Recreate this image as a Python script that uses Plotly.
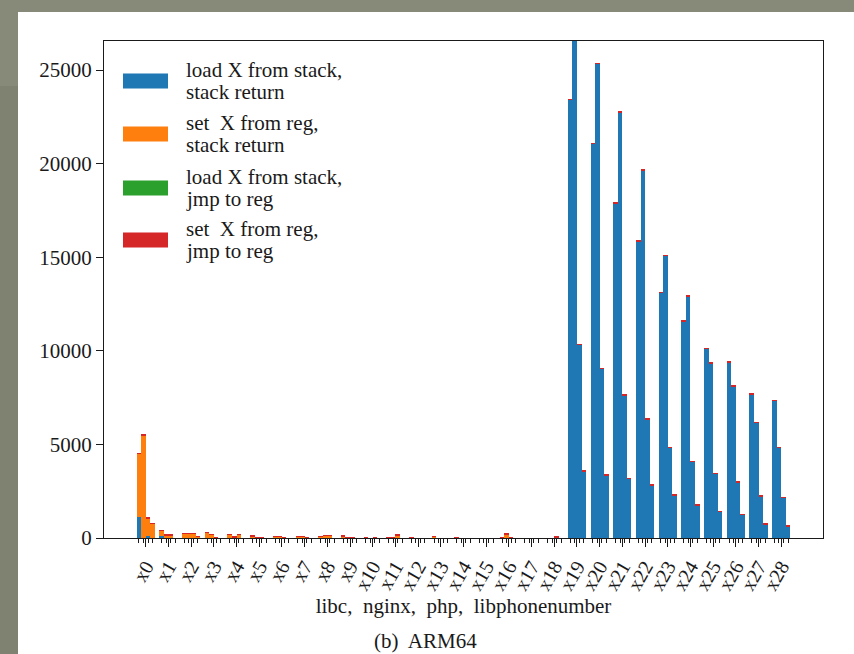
import plotly.graph_objects as go

# ---------------- data ----------------
registers = [f"x{i}" for i in range(29)]
programs = ["libc", "nginx", "php", "libphonenumber"]
categories = ["load X from stack,|stack return",
              "set\u00a0 X from reg,|stack return",
              "load X from stack,|jmp to reg",
              "set\u00a0 X from reg,|jmp to reg"]
colors = ["#1f77b4", "#ff7f0e", "#2ca02c", "#d62728"]

# load X from stack, stack return
blue_libc = [1100, 100, 0, 0, 0, 0, 0, 0, 0, 0, 0, 0, 0, 0, 0, 0, 0, 0, 0,
             23420, 21060, 17870, 15840, 13100, 11590, 10110, 9380, 7670, 7320]
blue_nginx = [0, 0, 0, 0, 0, 0, 0, 0, 0, 0, 0, 0, 0, 0, 0, 0, 0, 0, 0,
              27500, 25330, 22730, 19630, 15080, 12900, 9340, 8100, 6160, 4810]
blue_php = [130, 0, 0, 0, 0, 0, 0, 0, 0, 0, 0, 0, 0, 0, 0, 0, 0, 0, 0,
            10310, 9040, 7620, 6340, 4810, 4060, 3440, 2990, 2240, 2140]
blue_lpn = [0, 0, 0, 0, 0, 0, 0, 0, 0, 0, 0, 0, 0, 0, 0, 0, 0, 0, 0,
            3560, 3350, 3170, 2820, 2280, 1750, 1390, 1250, 720, 630]

# set X from reg, stack return
orange_libc = [3390, 290, 220, 280, 170, 100, 60, 60, 60, 100, 30, 20, 30, 70, 30, 0, 20, 0, 0,
               0, 0, 0, 0, 0, 0, 0, 0, 0, 0]
orange_nginx = [5465, 150, 220, 170, 40, 20, 60, 60, 110, 30, 0, 30, 0, 0, 0, 0, 190, 0, 0,
                0, 0, 0, 0, 0, 0, 0, 0, 0, 0]
orange_php = [920, 150, 220, 30, 170, 20, 20, 20, 110, 30, 30, 140, 0, 0, 0, 0, 20, 0, 0,
              0, 0, 0, 0, 0, 0, 0, 0, 0, 0]
orange_lpn = [750, 0, 60, 0, 0, 0, 0, 0, 0, 0, 0, 0, 0, 0, 0, 0, 0, 0, 0,
              0, 0, 0, 0, 0, 0, 0, 0, 0, 0]

# load X from stack, jmp to reg
green_libc = [0] * 29
green_nginx = [0] * 29
green_php = [0] * 29
green_lpn = [0] * 29

# set X from reg, jmp to reg
red_libc = [40, 30, 30, 30, 30, 30, 25, 25, 25, 25, 20, 20, 20, 25, 20, 0, 20, 0, 0,
            30, 30, 30, 30, 30, 30, 30, 30, 30, 30]
red_nginx = [40, 30, 30, 30, 20, 20, 25, 25, 25, 20, 0, 20, 0, 0, 0, 0, 30, 0, 0,
             30, 30, 30, 30, 30, 30, 30, 30, 30, 30]
red_php = [40, 30, 30, 20, 30, 20, 20, 20, 25, 20, 20, 30, 0, 0, 0, 0, 20, 0, 60,
           30, 30, 30, 30, 30, 30, 30, 30, 30, 30]
red_lpn = [30, 0, 25, 0, 0, 0, 0, 0, 0, 0, 0, 0, 0, 0, 0, 0, 0, 0, 0,
           30, 30, 30, 30, 30, 30, 30, 30, 30, 30]

series = [
    [blue_libc, blue_nginx, blue_php, blue_lpn],
    [orange_libc, orange_nginx, orange_php, orange_lpn],
    [green_libc, green_nginx, green_php, green_lpn],
    [red_libc, red_nginx, red_php, red_lpn],
]
offsets = [-0.3, -0.1, 0.1, 0.3]
bar_width = 0.2

y_ticks = [0, 5000, 10000, 15000, 20000, 25000]
y_max = 26550
x_axis_title = "libc,\u00a0 nginx,\u00a0 php,\u00a0 libphonenumber"
caption = "(b)\u00a0 ARM64"

# ---------------- layout geometry (pixels) ----------------
W, H = 854, 654
L, R, T, B = 104, 823, 41, 538
pw, ph = R - L, B - T


def px(x):
    return (x - L) / pw


def py(y):
    return (B - y) / ph


FONT = "Liberation Serif, Times New Roman, serif"

fig = go.Figure()
for c in range(4):
    xs, ys = [], []
    for p in range(4):
        for i in range(len(registers)):
            xs.append(i + offsets[p])
            ys.append(series[c][p][i])
    fig.add_trace(go.Bar(x=xs, y=ys, width=bar_width, marker_color=colors[c],
                         marker_line_width=0, name=categories[c].replace("|", " "),
                         showlegend=False))

minor_vals = [i + o for i in range(len(registers)) for o in offsets]

shapes = [
    # white page over the gray slide background
    dict(type="rect", xref="paper", yref="paper", x0=px(18), x1=px(W + 2), y0=py(12), y1=py(H + 2),
         fillcolor="white", line_width=0, layer="below"),
    # left gray strip texture change
    dict(type="rect", xref="paper", yref="paper", x0=px(-2), x1=px(18), y0=py(86), y1=py(H + 2),
         fillcolor="#7f8271", line_width=0, layer="below"),
]
annotations = []
# manual legend
leg_y = [81, 134, 188, 240]
for k in range(4):
    shapes.append(dict(type="rect", xref="paper", yref="paper", x0=px(123), x1=px(168),
                       y0=py(leg_y[k] + 7.5), y1=py(leg_y[k] - 7.5),
                       fillcolor=colors[k], line_width=0))
    l1, l2 = categories[k].split("|")
    for j, txt in enumerate([l1, l2]):
        annotations.append(dict(text=txt, xref="paper", yref="paper", x=px(184),
                                y=py(leg_y[k] - 11 + 22 * j), xanchor="left", yanchor="middle",
                                showarrow=False, font=dict(family=FONT, size=21, color="#1a1a1a")))
annotations.append(dict(text=caption, xref="paper", yref="paper", x=px(425), y=py(641),
                        xanchor="center", yanchor="middle", showarrow=False,
                        font=dict(family=FONT, size=21, color="#1a1a1a")))

fig.update_layout(
    width=W, height=H,
    margin=dict(l=L, r=W - R, t=T, b=H - B, pad=0),
    paper_bgcolor="#878a79",
    plot_bgcolor="white",
    barmode="stack",
    bargap=0,
    font=dict(family=FONT, size=21, color="#1a1a1a"),
    shapes=shapes,
    annotations=annotations,
    xaxis=dict(
        range=[-1.84, 29.84],
        tickmode="array", tickvals=list(range(len(registers))), ticktext=registers,
        tickangle=-60, tickfont=dict(family=FONT, size=20, color="#1a1a1a"),
        ticks="outside", ticklen=8, tickwidth=1.2, tickcolor="#1a1a1a",
        minor=dict(tickmode="array", tickvals=minor_vals, ticks="outside", ticklen=4,
                   tickwidth=1, tickcolor="#1a1a1a", showgrid=False),
        showline=True, linecolor="#1a1a1a", linewidth=1.3, mirror=True,
        showgrid=False, zeroline=False,
        title=dict(text=x_axis_title, font=dict(family=FONT, size=21, color="#1a1a1a"), standoff=3),
    ),
    yaxis=dict(
        range=[0, y_max],
        tickmode="array", tickvals=y_ticks, ticktext=[str(v) for v in y_ticks],
        tickfont=dict(family=FONT, size=21, color="#1a1a1a"),
        ticks="outside", ticklen=7, tickwidth=1.2, tickcolor="#1a1a1a",
        showline=True, linecolor="#1a1a1a", linewidth=1.3, mirror=True,
        showgrid=False, zeroline=False,
    ),
)

fig.write_html(
    "out.html",
    config={"displayModeBar": False},
    post_script="document.body.style.margin='0';document.body.style.overflow='hidden';"
                "document.body.style.background='#878a79';",
)
